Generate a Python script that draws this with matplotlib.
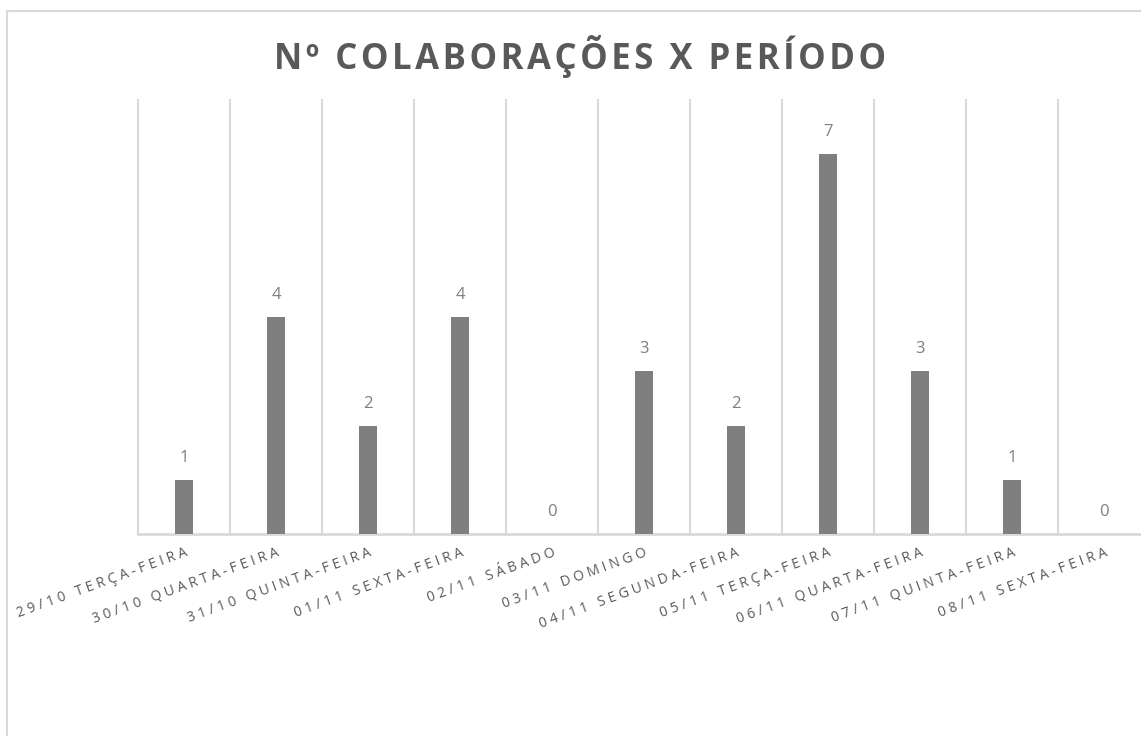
# Bar chart: number of collaborations per day
import matplotlib.pyplot as plt
from matplotlib.patches import Rectangle

categorias = ['29/10 TERÇA-FEIRA', '30/10 QUARTA-FEIRA', '31/10 QUINTA-FEIRA',
              '01/11 SEXTA-FEIRA', '02/11 SÁBADO', '03/11 DOMINGO',
              '04/11 SEGUNDA-FEIRA', '05/11 TERÇA-FEIRA', '06/11 QUARTA-FEIRA',
              '07/11 QUINTA-FEIRA', '08/11 SEXTA-FEIRA']
colaboracoes = [1, 4, 2, 4, 0, 3, 2, 7, 3, 1, 0]
titulo = 'Nº COLABORAÇÕES X PERÍODO'

GRAY_BAR = '#7f7f7f'
GRAY_TXT = '#595959'
GRAY_LINE = '#d9d9d9'
FONT = ['Open Sans', 'DejaVu Sans']
W, H = 1141, 736


def spaced(s, sep='\u200a'):
    return sep.join(s)


def main():
    fig = plt.figure(figsize=(W / 100, H / 100), dpi=100)
    fig.patch.set_facecolor('white')

    # chart border (runs off the image at right and bottom)
    fig.patches.append(Rectangle((7 / W, -0.05), 1.1, 1 - 11 / H + 0.05,
                                 transform=fig.transFigure, fill=False,
                                 edgecolor=GRAY_LINE, linewidth=1.5))

    n = len(categorias)
    left, right, bottom, top = 138, 1150, 534, 100
    ax = fig.add_axes([left / W, (H - bottom) / H, (right - left) / W, (bottom - top) / H])
    ax.set_xlim(-0.5, n - 0.5)
    ax.set_ylim(0, 8)

    x = list(range(n))
    ax.bar(x, colaboracoes, width=0.19, color=GRAY_BAR, zorder=3)

    for i in range(n + 1):
        ax.axvline(i - 0.5, color=GRAY_LINE, linewidth=1.5, zorder=1, clip_on=False)

    for xi, v in zip(x, colaboracoes):
        ax.annotate(str(v), (xi, v), xytext=(0, 10), textcoords='offset points',
                    ha='center', va='bottom', fontsize=12, color=GRAY_BAR, family=FONT)

    for s in ['top', 'right', 'left']:
        ax.spines[s].set_visible(False)
    ax.spines['bottom'].set_color(GRAY_LINE)
    ax.spines['bottom'].set_linewidth(2)
    ax.set_yticks([])
    ax.set_xticks(x)
    ax.set_xticklabels([])
    ax.tick_params(axis='x', length=0)

    for xi, lab in zip(x, categorias):
        ax.annotate(spaced(lab, '\u2009\u200a'), (xi, 0), xytext=(0, -8), textcoords='offset points',
                    ha='right', va='top', rotation=20, rotation_mode='anchor',
                    fontsize=10, color=GRAY_TXT, family=FONT, annotation_clip=False)

    fig.text(580 / W, 1 - 57 / H, spaced(titulo, '\u200a'), ha='center', va='center',
             fontsize=25, fontweight='bold', color=GRAY_TXT, family=FONT)

    fig.savefig('out.png', dpi=100)


if __name__ == '__main__':
    main()
